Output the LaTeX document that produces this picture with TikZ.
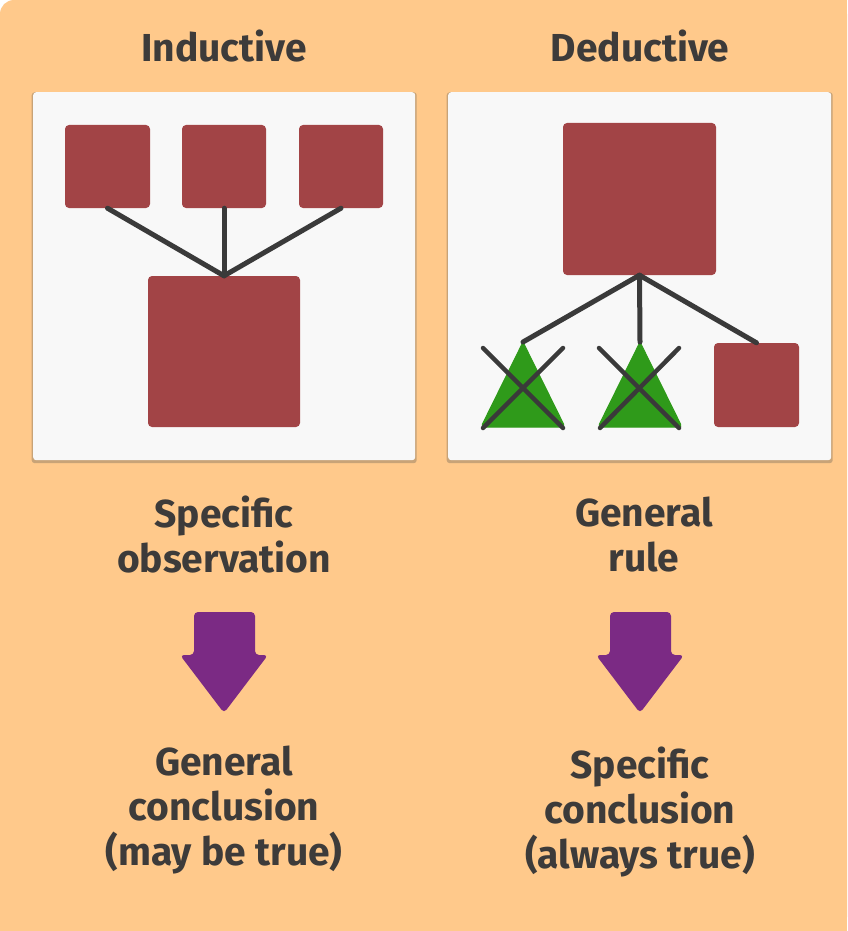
\documentclass[tikz,border=0pt]{standalone}
\usepackage{fontspec}
\setmainfont{Fira Sans}
\usetikzlibrary{shadows}
\definecolor{bgor}{HTML}{FFC98B}
\definecolor{panel}{HTML}{F8F8F8}
\definecolor{redsq}{HTML}{A24446}
\definecolor{grn}{HTML}{2F9A1A}
\definecolor{purp}{HTML}{7B2A84}
\definecolor{dk}{HTML}{3A3A3A}
\definecolor{txtc}{HTML}{3D3B3A}
\tikzset{
  panelbox/.style={fill=panel, draw=none, rounded corners=3pt, anchor=north west,
    drop shadow={shadow xshift=0pt, shadow yshift=-1.5pt, opacity=0.3, fill=black!70, shadow scale=1.008}},
  sq/.style={fill=redsq, draw=none, rounded corners=4pt, inner sep=0pt},
  link/.style={draw=dk, line width=5pt, line cap=round},
  cross/.style={draw=dk, line width=4.5pt, line cap=round},
  tri/.style={fill=grn, draw=grn, line width=1pt, rounded corners=3pt},
  darrow/.style={fill=purp, rounded corners=4pt},
  txt/.style={text=txtc, font=\fontsize{39}{45}\selectfont\bfseries, align=center, inner sep=0pt},
}
\begin{document}
\begin{tikzpicture}[x=1pt,y=-1pt]
\useasboundingbox (0,0) rectangle (847,931);
\fill[bgor, rounded corners=14pt] (0,0) rectangle (847,931);
\fill[bgor] (20,0) rectangle (847,931);
\fill[bgor] (0,20) rectangle (847,931);
% titles
\node[txt] (tI) at (224,46) {Inductive};
\node[txt] (tD) at (640,46) {Deductive};
% panels
\node[panelbox, minimum width=382pt, minimum height=368pt] (pL) at (33,92) {};
\node[panelbox, minimum width=383pt, minimum height=368pt] (pR) at (448,92) {};
% inductive
\node[sq, minimum width=85pt, minimum height=83pt] (s1) at (107.5,166.5) {};
\node[sq, minimum width=84pt, minimum height=83pt] (s2) at (224,166.5) {};
\node[sq, minimum width=84pt, minimum height=83pt] (s3) at (341,166.5) {};
\node[sq, minimum width=152pt, minimum height=151pt] (bL) at (224,351.5) {};
\draw[link] (s1.south) -- (bL.north);
\draw[link] (s2.south) -- (bL.north);
\draw[link] (s3.south) -- (bL.north);
% deductive
\node[sq, minimum width=153pt, minimum height=152pt] (bR) at (639.5,199) {};
\node[sq, minimum width=85pt, minimum height=84pt] (sR) at (756.5,385) {};
\coordinate (a1) at (523,342);
\coordinate (a2) at (640,342);
\fill[tri] (a1) -- (565,427) -- (481,427) -- cycle;
\fill[tri] (a2) -- (682,427) -- (598,427) -- cycle;
\draw[link] (bR.south) -- (a1);
\draw[link] (bR.south) -- (a2);
\draw[link] (bR.south) -- (sR.north);
\coordinate (x1a) at (483,348); \coordinate (x1b) at (563,428);
\coordinate (x1c) at (563,348); \coordinate (x1d) at (483,428);
\draw[cross] (x1a) -- (x1b);
\draw[cross] (x1c) -- (x1d);
\coordinate (x2a) at (599,348); \coordinate (x2b) at (679,428);
\coordinate (x2c) at (679,348); \coordinate (x2d) at (600,428);
\draw[cross] (x2a) -- (x2b);
\draw[cross] (x2c) -- (x2d);
% middle texts
\node[txt] (mL) at (224,535) {Specific\\observation};
\node[txt] (mR) at (644,535) {General\\rule};
% arrows
\fill[darrow] (194,612) -- (255,612) -- (255,655) -- (268,655) -- (224,713) -- (180,655) -- (194,655) -- cycle;
\fill[darrow] (610,612) -- (671,612) -- (671,655) -- (684,655) -- (640,713) -- (596,655) -- (610,655) -- cycle;
% bottom texts
\node[txt] (bTL) at (224,810) {General\\conclusion\\(may be true)};
\node[txt] (bTR) at (640,812) {Specific\\conclusion\\(always true)};
\end{tikzpicture}
\end{document}
